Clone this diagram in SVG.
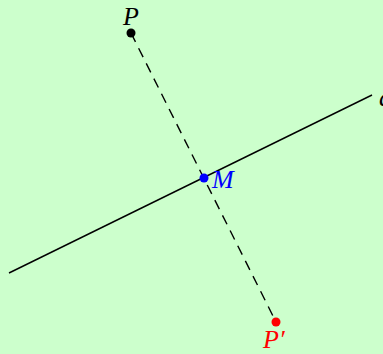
<svg xmlns="http://www.w3.org/2000/svg" width="383" height="354" viewBox="0 0 383 354">
<style>
.lbl{font-family:"Liberation Serif","DejaVu Serif",serif;font-style:italic;font-size:26px}
</style>
<rect width="383" height="354" fill="#ccffcc"/>
<g id="connectors">
<line x1="9" y1="273" x2="372" y2="95" stroke="#000" stroke-width="1.4"/>
<line x1="131" y1="33" x2="276" y2="322" stroke="#000" stroke-width="1.4" stroke-dasharray="10 7"/>
</g>
<g id="P"><circle cx="131" cy="33" r="4.5" fill="#000"/><text class="lbl" x="131" y="25" text-anchor="middle" fill="#000">P</text></g>
<g id="M"><circle cx="204" cy="178" r="4.5" fill="#0000ff"/><text class="lbl" x="212" y="188" fill="#0000ff">M</text></g>
<g id="Pp"><circle cx="276" cy="322" r="4.5" fill="#ff0000"/><text class="lbl" x="263" y="348" fill="#ff0000">P′</text></g>
<g id="d"><text class="lbl" x="379" y="106" fill="#000">d</text></g>
</svg>
